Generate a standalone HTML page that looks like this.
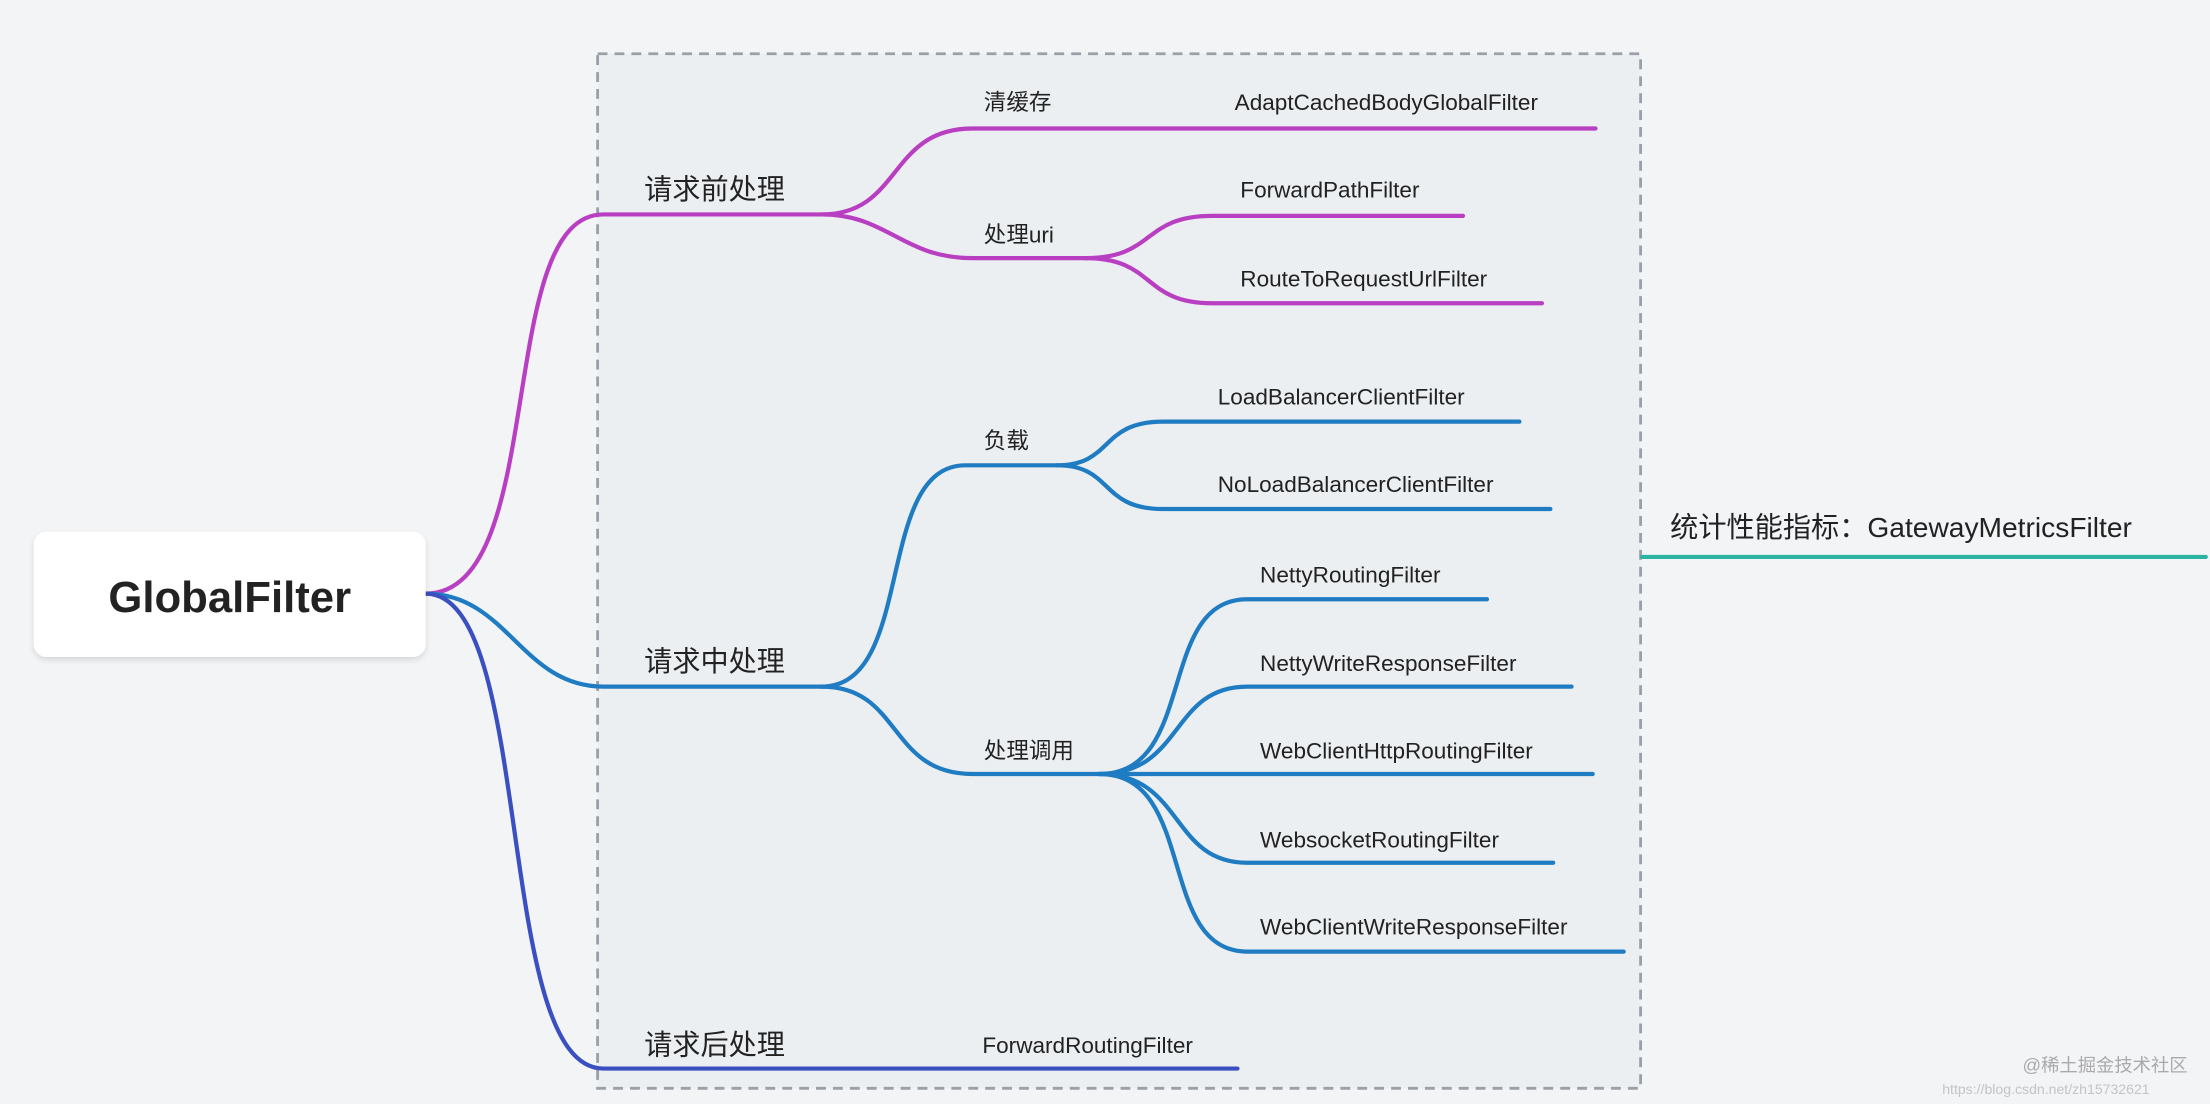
<!DOCTYPE html>
<html><head><meta charset="utf-8"><style>
html,body{margin:0;padding:0;background:#f3f4f6;}
svg{display:block;}
text{font-family:"Liberation Sans","Noto Sans CJK SC",sans-serif;fill:#222;}
</style></head><body>
<svg width="2210" height="1104" viewBox="0 0 1568 783" xmlns="http://www.w3.org/2000/svg">
<defs><filter id="sh" x="-10%" y="-20%" width="120%" height="150%"><feDropShadow dx="0" dy="2" stdDeviation="2" flood-color="#000" flood-opacity="0.12"/></filter></defs>
<rect width="1568" height="783" fill="#f3f4f6"/>
<rect x="424" y="38" width="740" height="734" fill="#eceff1" stroke="#9aa0a8" stroke-width="2" stroke-dasharray="7,5"/>
<g fill="none" stroke-width="3" stroke-linecap="round">
<g stroke="#b83fc2">
<path d="M302,421 C390,421 350,152 428,152 L583,152"/>
<path d="M583,152 C640,152 630,91 690,91 L1132,91"/>
<path d="M583,152 C630,152 640,183 690,183 L770,183"/>
<path d="M770,183 C820,183 810,153 860,153 L1038,153"/>
<path d="M770,183 C820,183 810,215 860,215 L1094,215"/>
</g>
<g stroke="#1f7cc2">
<path d="M302,421 C360,421 370,487 428,487 L583,487"/>
<path d="M583,487 C650,487 620,330 685,330 L750,330"/>
<path d="M750,330 C790,330 780,299 825,299 L1078,299"/>
<path d="M750,330 C790,330 780,361 825,361 L1100,361"/>
<path d="M583,487 C640,487 630,549 690,549 L780,549"/>
<path d="M780,549 C850,549 820,425 885,425 L1055,425"/>
<path d="M780,549 C840,549 830,487 885,487 L1115,487"/>
<path d="M780,549 L1130,549"/>
<path d="M780,549 C840,549 830,612 885,612 L1102,612"/>
<path d="M780,549 C850,549 820,675 885,675 L1152,675"/>
</g>
<path stroke="#3a4fc0" d="M302,421 C380,421 350,758 428,758 L878,758"/>
<path stroke="#2bb3a3" d="M1165,395 L1565,395"/>
</g>
<rect x="24" y="377" width="278" height="89" rx="9" fill="#fff" filter="url(#sh)"/>
<text x="163" y="434" font-size="31" text-anchor="middle" font-weight="600" fill="#2a2d31">GlobalFilter</text>
<g font-size="20">
<text x="457" y="141">请求前处理</text>
<text x="457" y="476">请求中处理</text>
<text x="457" y="748">请求后处理</text>
<text x="1185" y="381">统计性能指标：GatewayMetricsFilter</text>
</g>
<g font-size="16">
<text x="698" y="78">清缓存</text>
<text x="876" y="78">AdaptCachedBodyGlobalFilter</text>
<text x="698" y="172">处理uri</text>
<text x="880" y="140">ForwardPathFilter</text>
<text x="880" y="203">RouteToRequestUrlFilter</text>
<text x="698" y="318">负载</text>
<text x="864" y="287">LoadBalancerClientFilter</text>
<text x="864" y="349">NoLoadBalancerClientFilter</text>
<text x="698" y="538">处理调用</text>
<text x="894" y="413">NettyRoutingFilter</text>
<text x="894" y="476">NettyWriteResponseFilter</text>
<text x="894" y="538">WebClientHttpRoutingFilter</text>
<text x="894" y="601">WebsocketRoutingFilter</text>
<text x="894" y="663">WebClientWriteResponseFilter</text>
<text x="697" y="747">ForwardRoutingFilter</text>
</g>
<text x="1435" y="760" font-size="13" fill="#aaa" style="fill:#aaa">@稀土掘金技术社区</text>
<text x="1378" y="776" font-size="10" style="fill:#c4c4c4">https://blog.csdn.net/zh15732621</text>
</svg>
</body></html>
